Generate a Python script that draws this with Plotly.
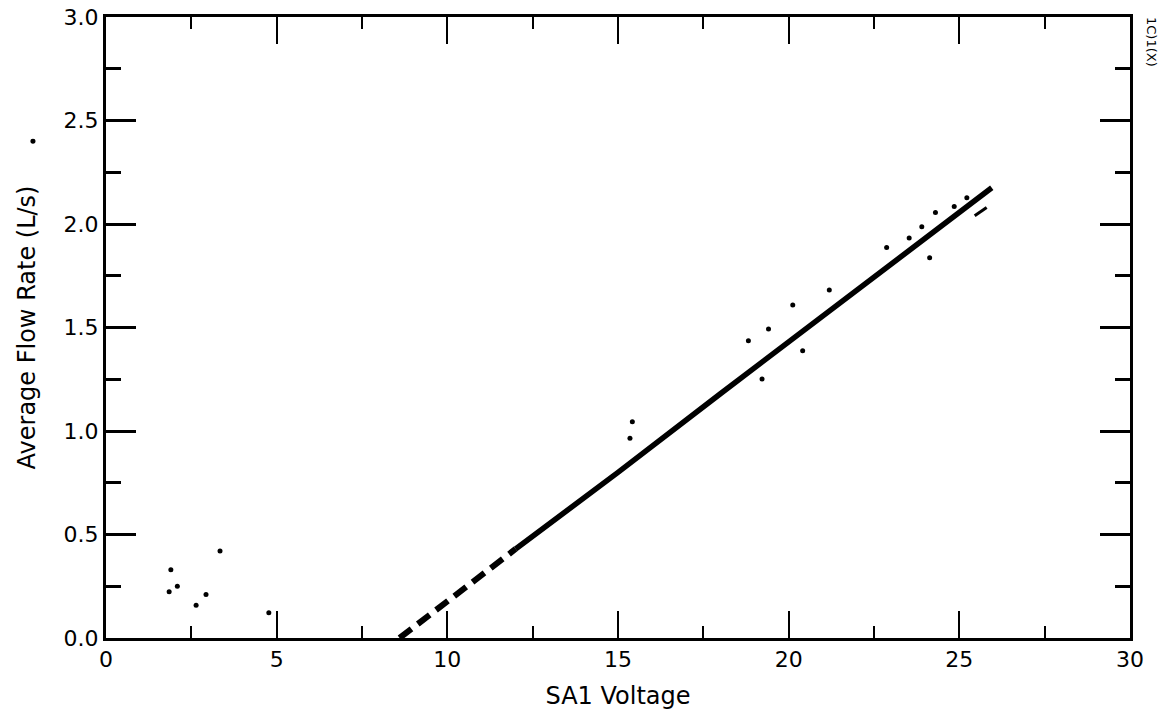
import plotly.graph_objects as go

# Fitted line (dashed low section, solid upper section)
dash_x = [8.6, 12.0]
dash_y = [0.0, 0.43]
line_x = [12.0, 15.0, 18.0, 20.0, 22.0, 24.0, 25.0, 25.95]
line_y = [0.43, 0.80, 1.18, 1.43, 1.68, 1.93, 2.06, 2.175]

# Scattered measurement points
pts_x = [1.85, 1.90, 2.09, 2.64, 2.93, 3.34, 4.77,
         15.35, 15.42, 18.82, 19.22, 19.41, 20.12, 20.41, 21.19,
         22.87, 23.53, 23.90, 24.13, 24.30, 24.85, 25.22]
pts_y = [0.224, 0.33, 0.25, 0.158, 0.21, 0.42, 0.122,
         0.965, 1.045, 1.436, 1.251, 1.493, 1.609, 1.388, 1.681,
         1.886, 1.932, 1.987, 1.837, 2.056, 2.084, 2.127]

# Short stray segment below the line end
branch_x = [25.45, 25.8]
branch_y = [2.04, 2.08]

# Stray mark outside the axes
stray_x = -2.14
stray_y = 2.40

X_RANGE = [0, 30]
Y_RANGE = [0, 3.0]

fig = go.Figure()
fig.add_trace(go.Scatter(x=dash_x, y=dash_y, mode="lines",
                         line=dict(color="black", width=6, dash="15px,8px"),
                         showlegend=False, hoverinfo="skip"))
fig.add_trace(go.Scatter(x=line_x, y=line_y, mode="lines",
                         line=dict(color="black", width=5.5),
                         showlegend=False, hoverinfo="skip"))
fig.add_trace(go.Scatter(x=branch_x, y=branch_y, mode="lines",
                         line=dict(color="black", width=3),
                         showlegend=False, hoverinfo="skip"))
fig.add_trace(go.Scatter(x=pts_x, y=pts_y, mode="markers",
                         marker=dict(color="black", size=5),
                         showlegend=False, hoverinfo="skip"))

# stray mark outside the plot area (converted from data units to paper units)
sx = (stray_x - X_RANGE[0]) / (X_RANGE[1] - X_RANGE[0])
sy = (stray_y - Y_RANGE[0]) / (Y_RANGE[1] - Y_RANGE[0])
fig.add_shape(type="circle", xref="paper", yref="paper",
              x0=sx - 0.0025, x1=sx + 0.0025, y0=sy - 0.004, y1=sy + 0.004,
              fillcolor="black", line=dict(width=0))

font = "DejaVu Sans, Arial, sans-serif"

fig.update_layout(
    width=1163, height=714,
    margin=dict(l=106, r=33, t=17, b=76),
    paper_bgcolor="white", plot_bgcolor="white",
    font=dict(family=font, color="black", size=22),
    xaxis=dict(
        range=X_RANGE, tickvals=[0, 5, 10, 15, 20, 25, 30],
        ticktext=["0", "5", "10", "15", "20", "25", "30"],
        ticks="inside", ticklen=27, tickwidth=2, tickcolor="black",
        minor=dict(ticks="inside", dtick=2.5, tick0=0, ticklen=12, tickwidth=2, tickcolor="black"),
        showline=True, linewidth=3, linecolor="black", mirror="allticks",
        showgrid=False, zeroline=False, automargin=False,
        title=dict(text="SA1 Voltage", font=dict(size=24), standoff=16),
        tickfont=dict(size=22),
    ),
    yaxis=dict(
        range=Y_RANGE, tickvals=[0, 0.5, 1.0, 1.5, 2.0, 2.5, 3.0],
        ticktext=["0.0", "0.5", "1.0", "1.5", "2.0", "2.5", "3.0"],
        ticks="inside", ticklen=30, tickwidth=3, tickcolor="black",
        minor=dict(ticks="inside", dtick=0.25, tick0=0, ticklen=15, tickwidth=3, tickcolor="black"),
        showline=True, linewidth=3, linecolor="black", mirror="allticks",
        showgrid=False, zeroline=False, automargin=False,
        title=dict(text="Average Flow Rate (L/s)", font=dict(size=24), standoff=22),
        tickfont=dict(size=22),
    ),
    annotations=[dict(
        text="1C)1(X)", x=(1151 - 106) / 1024, y=(638 - 42) / 621,
        xref="paper", yref="paper", xanchor="center", yanchor="middle",
        showarrow=False, textangle=90, font=dict(size=13, family=font),
    )],
)

fig.write_html("out.html")
